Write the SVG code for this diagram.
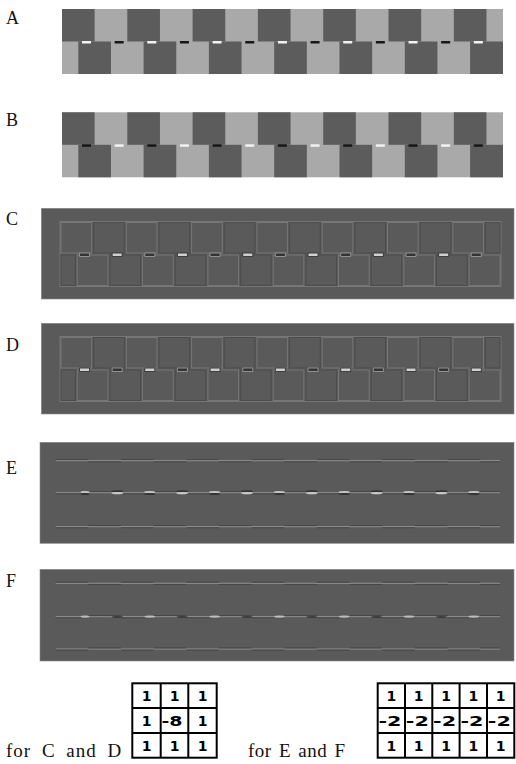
<svg xmlns="http://www.w3.org/2000/svg" xmlns:xlink="http://www.w3.org/1999/xlink" width="516" height="764" viewBox="0 0 516 764">
<style>
.lbl{font-family:"Liberation Serif","Times New Roman",serif;font-size:18px;fill:#111}
.cap{font-family:"Liberation Serif","Times New Roman",serif;font-size:19px;fill:#111}
.dk{fill:#5c5c5c}
.lt{fill:#a9a9a9}
.wd{fill:#f2f2f2}
.bd{fill:#181818}
.panel{fill:#5a5a5a;stroke:#8a8a8a;stroke-width:0.6}
.eL{fill:none;stroke:#767676;stroke-width:1}
.eD{fill:none;stroke:#4c4c4c;stroke-width:1}
.ln{stroke:#959595;stroke-width:1;fill:none}
.lnd{stroke:#464646;stroke-width:1;fill:none;stroke-dasharray:32.65 32.65}
.grid{fill:none;stroke:#000;stroke-width:2}
.num{font-family:"DejaVu Sans",Verdana,sans-serif;font-weight:bold;font-size:14px;fill:#000;text-anchor:middle}
.neg{font-family:"DejaVu Sans",Verdana,sans-serif;font-weight:bold;font-size:14px;fill:#000}
</style>
<defs>
<g id="squares">
<rect class="lt" x="0" y="0" width="441" height="65"/>
<g class="dk">
<rect x="0" y="0" width="32.65" height="32.5"/><rect x="65.3" y="0" width="32.65" height="32.5"/><rect x="130.6" y="0" width="32.65" height="32.5"/><rect x="195.9" y="0" width="32.65" height="32.5"/><rect x="261.2" y="0" width="32.65" height="32.5"/><rect x="326.5" y="0" width="32.65" height="32.5"/><rect x="391.8" y="0" width="32.65" height="32.5"/>
<rect x="16.3" y="32.5" width="32.65" height="32.5"/><rect x="81.6" y="32.5" width="32.65" height="32.5"/><rect x="146.9" y="32.5" width="32.65" height="32.5"/><rect x="212.2" y="32.5" width="32.65" height="32.5"/><rect x="277.5" y="32.5" width="32.65" height="32.5"/><rect x="342.8" y="32.5" width="32.65" height="32.5"/><rect x="408.1" y="32.5" width="32.9" height="32.5"/>
</g>
</g>
<g id="dashEven">
<rect x="20" y="32" width="9" height="2.5"/><rect x="85.3" y="32" width="9" height="2.5"/><rect x="150.6" y="32" width="9" height="2.5"/><rect x="215.9" y="32" width="9" height="2.5"/><rect x="281.2" y="32" width="9" height="2.5"/><rect x="346.5" y="32" width="9" height="2.5"/><rect x="411.8" y="32" width="9" height="2.5"/>
</g>
<g id="dashOdd">
<rect x="52.65" y="32" width="9" height="2.5"/><rect x="117.95" y="32" width="9" height="2.5"/><rect x="183.25" y="32" width="9" height="2.5"/><rect x="248.55" y="32" width="9" height="2.5"/><rect x="313.85" y="32" width="9" height="2.5"/><rect x="379.15" y="32" width="9" height="2.5"/>
</g>
<g id="outlines">
<g class="eL">
<rect x="1" y="1" width="30.65" height="30.5"/><rect x="66.3" y="1" width="30.65" height="30.5"/><rect x="131.6" y="1" width="30.65" height="30.5"/><rect x="196.9" y="1" width="30.65" height="30.5"/><rect x="262.2" y="1" width="30.65" height="30.5"/><rect x="327.5" y="1" width="30.65" height="30.5"/><rect x="392.8" y="1" width="30.65" height="30.5"/>
<rect x="17.3" y="33.5" width="30.65" height="30.5"/><rect x="82.6" y="33.5" width="30.65" height="30.5"/><rect x="147.9" y="33.5" width="30.65" height="30.5"/><rect x="213.2" y="33.5" width="30.65" height="30.5"/><rect x="278.5" y="33.5" width="30.65" height="30.5"/><rect x="343.8" y="33.5" width="30.65" height="30.5"/><rect x="409.1" y="33.5" width="30.9" height="30.5"/>
<rect x="0" y="0" width="441" height="65"/>
</g>
<g class="eD">
<rect x="33.65" y="1" width="30.65" height="30.5"/><rect x="98.95" y="1" width="30.65" height="30.5"/><rect x="164.25" y="1" width="30.65" height="30.5"/><rect x="229.55" y="1" width="30.65" height="30.5"/><rect x="294.85" y="1" width="30.65" height="30.5"/><rect x="360.15" y="1" width="30.65" height="30.5"/><rect x="425.45" y="1" width="14.55" height="30.5"/>
<rect x="1" y="33.5" width="14.3" height="30.5"/><rect x="49.95" y="33.5" width="30.65" height="30.5"/><rect x="115.25" y="33.5" width="30.65" height="30.5"/><rect x="180.55" y="33.5" width="30.65" height="30.5"/><rect x="245.85" y="33.5" width="30.65" height="30.5"/><rect x="311.15" y="33.5" width="30.65" height="30.5"/><rect x="376.45" y="33.5" width="30.65" height="30.5"/>
</g>
</g>
</defs>

<g id="panelA">
<text class="lbl" x="6" y="24">A</text>
<use xlink:href="#squares" transform="translate(62,9)"/>
<use xlink:href="#dashEven" class="wd" transform="translate(62,9)"/>
<use xlink:href="#dashOdd" class="bd" transform="translate(62,9)"/>
</g>

<g id="panelB">
<text class="lbl" x="6" y="126">B</text>
<use xlink:href="#squares" transform="translate(62,112.3)"/>
<use xlink:href="#dashEven" class="bd" transform="translate(62,112.3)"/>
<use xlink:href="#dashOdd" class="wd" transform="translate(62,112.3)"/>
</g>

<g id="panelC">
<text class="lbl" x="6" y="225">C</text>
<rect class="panel" x="41.3" y="208.3" width="472.7" height="90.7"/>
<use xlink:href="#outlines" transform="translate(60,221.5)"/>
<g transform="translate(60,221.5)">
<use xlink:href="#dashEven" fill="#929292" stroke="#929292" stroke-width="2" stroke-linejoin="round"/>
<use xlink:href="#dashEven" fill="#333"/>
<use xlink:href="#dashOdd" fill="#3e3e3e" stroke="#3e3e3e" stroke-width="2" stroke-linejoin="round"/>
<use xlink:href="#dashOdd" fill="#d0d0d0"/>
</g>
</g>

<g id="panelD">
<text class="lbl" x="6" y="351">D</text>
<rect class="panel" x="41.3" y="323.3" width="472.7" height="90.7"/>
<use xlink:href="#outlines" transform="translate(60,336.5)"/>
<g transform="translate(60,336.5)">
<use xlink:href="#dashOdd" fill="#929292" stroke="#929292" stroke-width="2" stroke-linejoin="round"/>
<use xlink:href="#dashOdd" fill="#333"/>
<use xlink:href="#dashEven" fill="#3e3e3e" stroke="#3e3e3e" stroke-width="2" stroke-linejoin="round"/>
<use xlink:href="#dashEven" fill="#d0d0d0"/>
</g>
</g>

<g id="panelE">
<text class="lbl" x="6" y="474">E</text>
<rect class="panel" x="40" y="442.3" width="474" height="101"/>
<path class="ln" d="M55.7 460.7H500M55.7 492.7H500M55.7 526.7H500"/>
<path class="lnd" d="M55.7 459.6H500M55.7 493.8H500M55.7 527.8H500"/>
<path class="lnd" stroke-dashoffset="32.65" d="M55.7 461.8H500M55.7 491.6H500M55.7 525.6H500"/>
<g id="blobsE">
<g fill="#c4c4c4"><ellipse cx="85" cy="492.2" rx="4.5" ry="1.1"/><ellipse cx="149.8" cy="492.2" rx="5.5" ry="1.1"/><ellipse cx="214.6" cy="492.2" rx="5.5" ry="1.1"/><ellipse cx="279.4" cy="492.2" rx="5.5" ry="1.1"/><ellipse cx="344.2" cy="492.2" rx="5.5" ry="1.1"/><ellipse cx="409" cy="492.2" rx="5.5" ry="1.1"/><ellipse cx="473.8" cy="492.2" rx="5.5" ry="1.1"/></g>
<g fill="#333"><ellipse cx="85" cy="494.1" rx="4.5" ry="1"/><ellipse cx="149.8" cy="494.1" rx="5.5" ry="1"/><ellipse cx="214.6" cy="494.1" rx="5.5" ry="1"/><ellipse cx="279.4" cy="494.1" rx="5.5" ry="1"/><ellipse cx="344.2" cy="494.1" rx="5.5" ry="1"/><ellipse cx="409" cy="494.1" rx="5.5" ry="1"/><ellipse cx="473.8" cy="494.1" rx="5.5" ry="1"/></g>
<g fill="#333"><ellipse cx="117.4" cy="491.3" rx="6" ry="1"/><ellipse cx="182.2" cy="491.3" rx="6" ry="1"/><ellipse cx="247" cy="491.3" rx="6" ry="1"/><ellipse cx="311.8" cy="491.3" rx="6" ry="1"/><ellipse cx="376.6" cy="491.3" rx="6" ry="1"/><ellipse cx="441.4" cy="491.3" rx="6" ry="1"/></g>
<g fill="#cacaca"><ellipse cx="117.4" cy="493.1" rx="6" ry="1.1"/><ellipse cx="182.2" cy="493.1" rx="6" ry="1.1"/><ellipse cx="247" cy="493.1" rx="6" ry="1.1"/><ellipse cx="311.8" cy="493.1" rx="6" ry="1.1"/><ellipse cx="376.6" cy="493.1" rx="6" ry="1.1"/><ellipse cx="441.4" cy="493.1" rx="6" ry="1.1"/></g>
</g>
</g>

<g id="panelF">
<text class="lbl" x="6" y="587">F</text>
<rect class="panel" x="40" y="569.3" width="474" height="91.7"/>
<path class="ln" d="M55.7 583.3H500M55.7 616.7H500M55.7 649H500"/>
<path class="lnd" d="M55.7 582.2H500M55.7 617.8H500M55.7 650.1H500"/>
<path class="lnd" stroke-dashoffset="32.65" d="M55.7 584.4H500M55.7 615.6H500M55.7 647.9H500"/>
<g id="blobsF">
<g fill="#bdbdbd"><ellipse cx="85" cy="616.6" rx="4.5" ry="1.2"/><ellipse cx="149.8" cy="616.6" rx="5.5" ry="1.2"/><ellipse cx="214.6" cy="616.6" rx="5.5" ry="1.2"/><ellipse cx="279.4" cy="616.6" rx="5.5" ry="1.2"/><ellipse cx="344.2" cy="616.6" rx="5.5" ry="1.2"/><ellipse cx="409" cy="616.6" rx="5.5" ry="1.2"/><ellipse cx="473.8" cy="616.6" rx="5.5" ry="1.2"/></g>
<g fill="#3c3c3c"><ellipse cx="117.4" cy="617" rx="5.5" ry="1.1"/><ellipse cx="182.2" cy="617" rx="5.5" ry="1.1"/><ellipse cx="247" cy="617" rx="5.5" ry="1.1"/><ellipse cx="311.8" cy="617" rx="5.5" ry="1.1"/><ellipse cx="376.6" cy="617" rx="5.5" ry="1.1"/><ellipse cx="441.4" cy="617" rx="5.5" ry="1.1"/></g>
</g>
</g>

<g id="captionCD">
<text class="cap" x="6" y="757" letter-spacing="1" word-spacing="5">for C and D</text>
</g>
<g id="kernelCD">
<rect class="grid" x="132.3" y="683.3" width="84.4" height="74.4"/>
<path class="grid" d="M160.7 683.3V757.7M188.3 683.3V757.7M132.3 708.1H216.7M132.3 732.9H216.7"/>
<text class="num" x="146.5" y="701">1</text><text class="num" x="174.5" y="701">1</text><text class="num" x="202.5" y="701">1</text>
<text class="num" x="146.5" y="726">1</text><text class="neg" x="161.5" y="726" textLength="21" lengthAdjust="spacingAndGlyphs">-8</text><text class="num" x="202.5" y="726">1</text>
<text class="num" x="146.5" y="751">1</text><text class="num" x="174.5" y="751">1</text><text class="num" x="202.5" y="751">1</text>
</g>

<g id="captionEF">
<text class="cap" x="248" y="757" letter-spacing="0.5" word-spacing="2">for E and F</text>
</g>
<g id="kernelEF">
<rect class="grid" x="377.7" y="683.3" width="136.6" height="74.4"/>
<path class="grid" d="M405 683.3V757.7M432.3 683.3V757.7M459.6 683.3V757.7M487 683.3V757.7M377.7 708.1H514.3M377.7 732.9H514.3"/>
<text class="num" x="391.3" y="701">1</text><text class="num" x="418.7" y="701">1</text><text class="num" x="446" y="701">1</text><text class="num" x="473.3" y="701">1</text><text class="num" x="500.7" y="701">1</text>
<text class="neg" x="378.5" y="726" textLength="23" lengthAdjust="spacingAndGlyphs">-2</text><text class="neg" x="405.8" y="726" textLength="23" lengthAdjust="spacingAndGlyphs">-2</text><text class="neg" x="433.1" y="726" textLength="23" lengthAdjust="spacingAndGlyphs">-2</text><text class="neg" x="460.4" y="726" textLength="23" lengthAdjust="spacingAndGlyphs">-2</text><text class="neg" x="487.8" y="726" textLength="23" lengthAdjust="spacingAndGlyphs">-2</text>
<text class="num" x="391.3" y="751">1</text><text class="num" x="418.7" y="751">1</text><text class="num" x="446" y="751">1</text><text class="num" x="473.3" y="751">1</text><text class="num" x="500.7" y="751">1</text>
</g>
</svg>
